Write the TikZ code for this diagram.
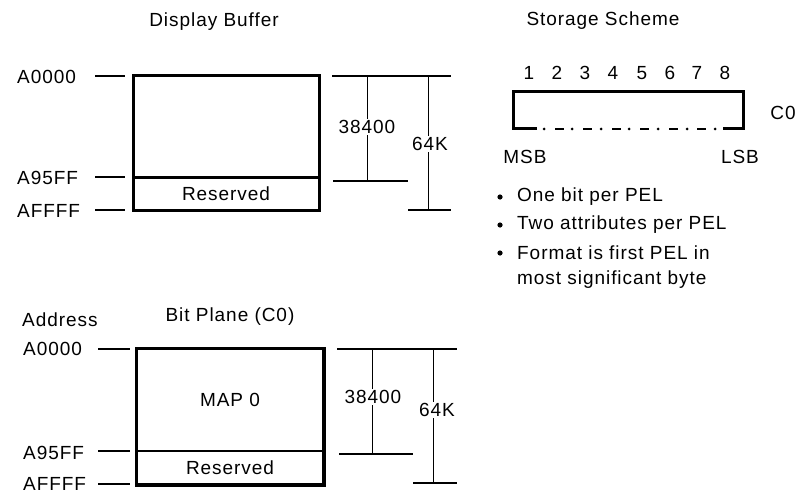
\documentclass[tikz,border=0pt]{standalone}
\usepackage{fontspec}
\setmainfont{Liberation Sans}[LetterSpace=5]
\begin{document}
\begin{tikzpicture}[x=1pt,y=-1pt,
  lbl/.style={font=\fontsize{19}{22}\selectfont, inner sep=0pt},
  dimlbl/.style={lbl, fill=white, inner sep=1pt},
  boxpart/.style={draw, line width=3pt, minimum width=186pt, inner sep=0pt, font=\fontsize{19}{22}\selectfont},
  tickline/.style={line width=1.5pt},
  dimline/.style={line width=1pt},
  hline/.style={line width=1.5pt}]
\useasboundingbox (0,0) rectangle (799,497);

% ---------- Display Buffer ----------
\node[lbl] (t1) at (214,22) {Display Buffer};
\node[boxpart, minimum height=101pt] (bufmain) at (226,126.5) {};
\node[boxpart, minimum height=33pt] (bufres) at (226,193.5) {Reserved};

\node[lbl, anchor=west] (a1) at (17,77) {A0000};
\node[lbl, anchor=west] (a2) at (17,178) {A95FF};
\node[lbl, anchor=west] (a3) at (17,211) {AFFFF};
\coordinate (k1) at (95,76);  \coordinate (k1e) at (125,76);
\coordinate (k2) at (95,177); \coordinate (k2e) at (125,177);
\coordinate (k3) at (95,210); \coordinate (k3e) at (125,210);
\draw[tickline] (k1) -- (k1e);
\draw[tickline] (k2) -- (k2e);
\draw[tickline] (k3) -- (k3e);

\coordinate (d1a) at (332,76);  \coordinate (d1b) at (451,76);
\coordinate (d2a) at (333,181); \coordinate (d2b) at (408,181);
\coordinate (d3a) at (408,210); \coordinate (d3b) at (451,210);
\coordinate (v1t) at (367,76);  \coordinate (v1b) at (367,181);
\coordinate (v2t) at (428,76);  \coordinate (v2b) at (428,210);
\draw[hline] (d1a) -- (d1b);
\draw[hline] (d2a) -- (d2b);
\draw[hline] (d3a) -- (d3b);
\draw[dimline] (v1t) -- (v1b);
\draw[dimline] (v2t) -- (v2b);
\node[dimlbl] (n1) at (367,127) {38400};
\node[dimlbl] (n2) at (430,144) {64K};

% ---------- Bit Plane (C0) ----------
\node[lbl, anchor=west] (addr) at (22,320) {Address};
\node[lbl] (t2) at (230,317) {Bit Plane (C0)};
\node[boxpart, line width=2pt, minimum height=102pt] (map) at (230,400) {MAP 0};
\node[boxpart, line width=2pt, minimum height=33pt] (mapres) at (230,467.5) {Reserved};
\draw[line width=3pt] (map.south west) |- (map.north east) -- (map.south east);
\draw[line width=3pt] (mapres.north west) |- (mapres.south east) -- (mapres.north east);

\node[lbl, anchor=west] (b1) at (23,349) {A0000};
\node[lbl, anchor=west] (b2) at (23,453) {A95FF};
\node[lbl, anchor=west] (b3) at (23,484) {AFFFF};
\coordinate (m1) at (98,349);  \coordinate (m1e) at (130,349);
\coordinate (m2) at (98,451);  \coordinate (m2e) at (130,451);
\coordinate (m3) at (98,484);  \coordinate (m3e) at (130,484);
\draw[tickline] (m1) -- (m1e);
\draw[tickline] (m2) -- (m2e);
\draw[tickline] (m3) -- (m3e);

\coordinate (e1a) at (337,349); \coordinate (e1b) at (457,349);
\coordinate (e2a) at (339,454); \coordinate (e2b) at (413,454);
\coordinate (e3a) at (413,483); \coordinate (e3b) at (457,483);
\coordinate (w1t) at (372,349); \coordinate (w1b) at (372,454);
\coordinate (w2t) at (433,349); \coordinate (w2b) at (433,483);
\draw[hline] (e1a) -- (e1b);
\draw[hline] (e2a) -- (e2b);
\draw[hline] (e3a) -- (e3b);
\draw[dimline] (w1t) -- (w1b);
\draw[dimline] (w2t) -- (w2b);
\node[dimlbl] (p1) at (373,397) {38400};
\node[dimlbl] (p2) at (437,410) {64K};

% ---------- Storage Scheme ----------
\node[lbl] (t3) at (603,21) {Storage Scheme};
\foreach \i/\x in {1/529,2/557,3/585,4/613,5/642,6/670,7/697,8/725}
  \node[lbl] (bit\i) at (\x,73) {\i};
\coordinate (sbl) at (513,129);
\coordinate (stl) at (513,92);
\coordinate (str) at (743,92);
\coordinate (sbr) at (743,129);
\draw[line width=3pt] (537,129) -- (sbl) -- (stl) -- (str) -- (sbr) -- (723,129);
\foreach \x in {544,572,601,629,658,687,715}
  \fill (\x,129) circle (1.5);
\foreach \x in {555,583,612,640,669,697}
  \draw[line width=2.5pt] (\x,129) -- ++(9,0);
\node[lbl] (c0) at (783,113) {C0};
\node[lbl] (msb) at (525,157) {MSB};
\node[lbl] (lsb) at (740,157) {LSB};

\foreach \y in {197,225,253}
  \fill (500,\y) circle (2.6);
\node[lbl, anchor=west] (l1) at (517,197) {One bit per PEL};
\node[lbl, anchor=west] (l2) at (517,225) {Two attributes per PEL};
\node[lbl, anchor=west] (l3) at (517,253) {Format is first PEL in};
\node[lbl, anchor=west] (l4) at (517,280) {most significant byte};
\end{tikzpicture}
\end{document}
